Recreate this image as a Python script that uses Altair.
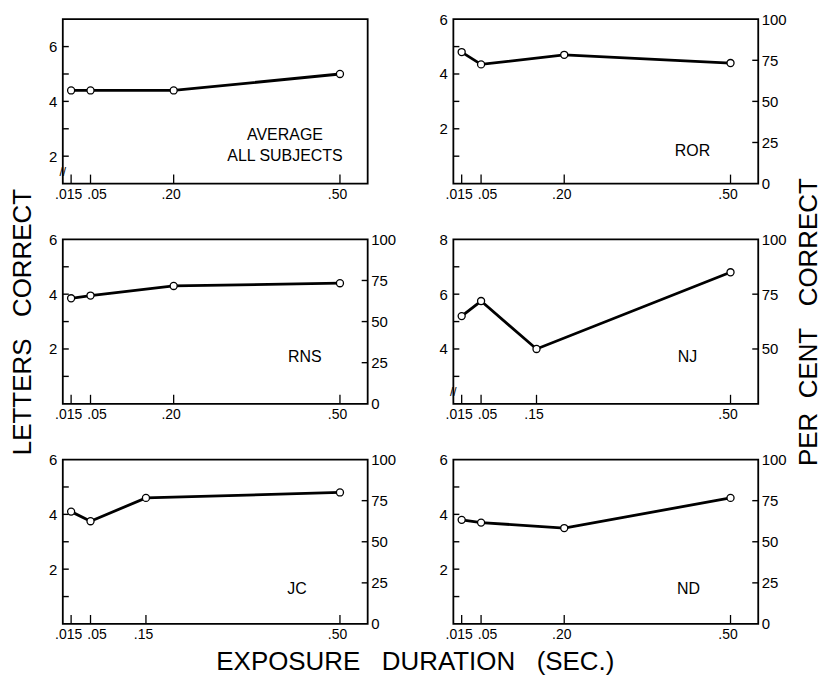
import altair as alt
import pandas as pd

# ---------------- data ----------------
x_std = [0.015, 0.05, 0.20, 0.50]
x_alt = [0.015, 0.05, 0.15, 0.50]

avg_y = [4.4, 4.4, 4.4, 5.0]
ror_y = [4.8, 4.35, 4.7, 4.4]
rns_y = [3.85, 3.95, 4.3, 4.4]
nj_y = [5.2, 5.75, 4.0, 6.8]
jc_y = [4.1, 3.75, 4.6, 4.8]
nd_y = [3.8, 3.7, 3.5, 4.6]

labels_std = [2, 4, 6]
labels_nj = [4, 6, 8]
minor_std = [1, 2, 3, 4, 5]
minor_avg = [2, 3, 4, 5, 6]
minor_nj = [3, 4, 5, 6, 7]

pct_labels_std = [0, 25, 50, 75, 100]
pct_labels_nj = [50, 75, 100]
pct_ticks_std = [25, 50, 75]
pct_ticks_nj = [50, 75]

NB = "\u00a0"
TITLE_LEFT = "LETTERS" + NB * 3 + "CORRECT"
TITLE_RIGHT = "PER" + NB * 2 + "CENT" + NB * 3 + "CORRECT"
TITLE_BOTTOM = "EXPOSURE" + NB * 3 + "DURATION" + NB * 3 + "(SEC.)"

W, H = 306, 165
FONT = "Liberation Sans"

X_LABEL_EXPR = ("datum.value == 0.015 ? '.015' : "
                "replace(format(datum.value, '.2f'), '0.', '.')")


def panel(name, xs, ys, ydom, ylab, yticks, lx, ly,
          pdom=None, plab=None, pticks=None, brk=False,
          left_title=None, right_title=None):
    df = pd.DataFrame({"x": xs, "y": ys})
    xsc = alt.Scale(domain=[0, 0.55], nice=False, zero=False)
    ysc = alt.Scale(domain=ydom, nice=False, zero=False)

    xaxis = alt.Axis(title=None, values=xs, labelExpr=X_LABEL_EXPR, labelFontSize=14,
                     labelPadding=4, labelOverlap=False, labelFlush=False,
                     labelOffset={"condition": {"test": "datum.value == 0.05", "value": 6},
                                  "value": -3})
    ykw = dict(values=ylab, format="d", labelPadding=6, labelFontSize=15,
               labelOverlap=False)
    if left_title:
        yaxis = alt.Axis(title=left_title, titlePadding=13, **ykw)
    else:
        yaxis = alt.Axis(title=None, **ykw)

    line = alt.Chart(df).mark_line(color="black", strokeWidth=2.8).encode(
        x=alt.X("x:Q", scale=xsc, axis=xaxis),
        y=alt.Y("y:Q", scale=ysc, axis=yaxis),
    )
    pts = alt.Chart(df).mark_point(filled=True, fill="white", stroke="black",
                                   strokeWidth=1.3, size=50, opacity=1).encode(
        x=alt.X("x:Q", scale=xsc),
        y=alt.Y("y:Q", scale=ysc),
    )
    xt = alt.Chart(df).mark_rule(color="black", strokeWidth=1.3).encode(
        x=alt.X("x:Q", scale=xsc),
        y=alt.value(H),
        y2=alt.value(H - 9),
    )
    lt = alt.Chart(pd.DataFrame({"y": yticks})).mark_rule(
        color="black", strokeWidth=1.4).encode(
        y=alt.Y("y:Q", scale=ysc),
        x=alt.value(0),
        x2=alt.value(6),
    )
    txt = alt.Chart(pd.DataFrame({"lab": [name]})).mark_text(
        font=FONT, fontSize=16, color="black", align="center",
        baseline="middle", lineBreak="\n", lineHeight=21).encode(
        x=alt.value(lx), y=alt.value(ly), text="lab:N")
    layers = [line, xt, lt, txt]
    if brk:
        bm = alt.Chart(pd.DataFrame({"b": ["//"]})).mark_text(
            font=FONT, fontSize=12, color="black", align="center",
            baseline="middle").encode(
            x=alt.value(0), y=alt.value(H - 12), text="b:N")
        layers.append(bm)
    layers.append(pts)
    left = alt.layer(*layers)

    if pdom is None:
        return left.properties(width=W, height=H)

    pkw = dict(orient="right", values=plab, format="d", labelPadding=3,
               labelFontSize=15, labelOverlap=False)
    if right_title:
        paxis = alt.Axis(title=right_title, titleAngle=270, titleBaseline="top",
                         titlePadding=9, **pkw)
    else:
        paxis = alt.Axis(title=None, **pkw)
    rt = alt.Chart(pd.DataFrame({"p": pticks})).mark_rule(
        color="black", strokeWidth=1.4).encode(
        y=alt.Y("p:Q", scale=alt.Scale(domain=pdom, nice=False, zero=False),
                axis=paxis),
        x=alt.value(W - 6),
        x2=alt.value(W),
    )
    return alt.layer(left, rt).resolve_scale(y="independent").properties(
        width=W, height=H)


p1 = panel("AVERAGE\nALL SUBJECTS", x_std, avg_y, [1, 7], labels_std, minor_avg,
           223, 116, brk=True)
p2 = panel("ROR", x_std, ror_y, [0, 6], labels_std, minor_std, 240, 132,
           [0, 100], pct_labels_std, pct_ticks_std)
p3 = panel("RNS", x_std, rns_y, [0, 6], labels_std, minor_std, 243, 118,
           [0, 100], pct_labels_std, pct_ticks_std, left_title=TITLE_LEFT)
p4 = panel("NJ", x_alt, nj_y, [2, 8], labels_nj, minor_nj, 235, 118,
           [25, 100], pct_labels_nj, pct_ticks_nj, brk=True,
           right_title=TITLE_RIGHT)
p5 = panel("JC", x_alt, jc_y, [0, 6], labels_std, minor_std, 235, 130,
           [0, 100], pct_labels_std, pct_ticks_std)
p6 = panel("ND", x_std, nd_y, [0, 6], labels_std, minor_std, 236, 130,
           [0, 100], pct_labels_std, pct_ticks_std)

chart = alt.concat(
    p1, p2, p3, p4, p5, p6, columns=2,
    spacing={"row": 56, "column": 86}, bounds="flush",
).properties(
    title=alt.TitleParams(text=TITLE_BOTTOM, orient="bottom",
                          anchor="middle", fontSize=26, font=FONT,
                          fontWeight="normal", color="black", offset=6),
    padding={"left": 0, "top": 2, "right": 0, "bottom": 0},
).configure_view(
    stroke="black", strokeWidth=1.8
).configure_axis(
    domain=False, ticks=False, grid=False,
    labelFont=FONT, labelColor="black",
    titleFont=FONT, titleFontSize=26, titleFontWeight="normal", titleColor="black",
).configure_title(font=FONT)

chart.save("out.html", embed_options={"renderer": "svg", "actions": False})
